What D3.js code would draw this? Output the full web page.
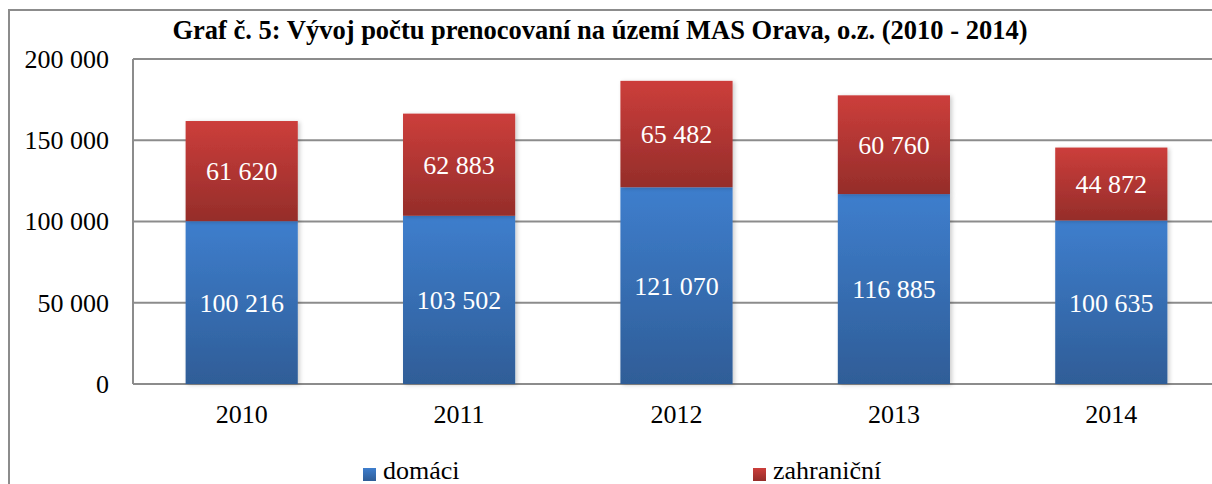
<!DOCTYPE html>
<html>
<head>
<meta charset="utf-8">
<script src="https://cdn.jsdelivr.net/npm/d3@7"></script>
<style>
  html, body { margin: 0; padding: 0; background: #fff; }
  svg { display: block; }
</style>
</head>
<body>
<div id="chart"></div>
<script>
// data
const years = ['2010', '2011', '2012', '2013', '2014'];
const domaci = [100216, 103502, 121070, 116885, 100635];
const zahranicni = [61620, 62883, 65482, 60760, 44872];
const yTicks = [0, 50000, 100000, 150000, 200000];
const seriesNames = ['domáci', 'zahraniční'];

const width = 1212, height = 484;
const margin = { top: 59, right: -8, bottom: 100, left: 133 };
const serif = 'Liberation Serif';

const svg = d3.select('#chart').append('svg')
    .attr('width', width)
    .attr('height', height)
    .attr('font-family', serif);

const defs = svg.append('defs');
function grad(id, top, bottom) {
    const g = defs.append('linearGradient').attr('id', id)
        .attr('x1', 0).attr('y1', 0).attr('x2', 0).attr('y2', 1);
    g.append('stop').attr('offset', '0%').attr('stop-color', top);
    g.append('stop').attr('offset', '100%').attr('stop-color', bottom);
}
grad('gBlue', '#3e7ecd', '#2f5d97');
grad('gRed', '#cc3e3b', '#952d2a');
const shadow = defs.append('filter').attr('id', 'shadow')
    .attr('x', '-10%').attr('y', '-10%').attr('width', '130%').attr('height', '130%');
shadow.append('feDropShadow').attr('dx', 2).attr('dy', 1).attr('stdDeviation', 2)
    .attr('flood-color', '#000').attr('flood-opacity', 0.2);

// outer chart border (runs off the right/bottom edge like the source)
svg.append('rect')
    .attr('x', 9).attr('y', 10)
    .attr('width', width + 20).attr('height', height + 20)
    .attr('fill', 'none').attr('stroke', '#8c8c8c').attr('stroke-width', 2);

const x = d3.scaleBand()
    .domain(years)
    .range([margin.left, width - margin.right])
    .paddingInner(0.484).paddingOuter(0.242);

const y = d3.scaleLinear()
    .domain([0, 200000])
    .range([height - margin.bottom, margin.top]);

// gridlines
svg.append('g')
    .selectAll('line')
    .data(yTicks)
    .join('line')
    .attr('x1', margin.left).attr('x2', width + 10)
    .attr('y1', d => y(d)).attr('y2', d => y(d))
    .attr('stroke', '#8c8c8c').attr('stroke-width', 2);

// plot left border
svg.append('line')
    .attr('x1', margin.left).attr('x2', margin.left)
    .attr('y1', y(200000)).attr('y2', y(0))
    .attr('stroke', '#8c8c8c').attr('stroke-width', 2);

const fmt = v => d3.format(',')(v).replace(/,/g, ' ');

// y axis labels
svg.append('g')
    .attr('transform', `translate(${margin.left - 24},0)`)
    .call(d3.axisLeft(y).tickValues(yTicks).tickSize(0).tickPadding(0).tickFormat(fmt))
    .call(g => g.select('.domain').remove())
    .attr('font-family', serif).attr('font-size', 26)
    .selectAll('text')
    .attr('fill', '#000');

// x axis labels
svg.append('g')
    .attr('transform', `translate(0,${y(0)})`)
    .call(d3.axisBottom(x).tickSize(0).tickPadding(0))
    .call(g => g.select('.domain').remove())
    .attr('font-family', serif).attr('font-size', 26)
    .selectAll('text')
    .attr('dy', null).attr('y', 39)
    .attr('fill', '#000');

// bars
const bars = svg.append('g');
years.forEach((yr, i) => {
    const d0 = domaci[i], d1 = zahranicni[i];
    bars.append('rect')
        .attr('x', x(yr)).attr('width', x.bandwidth())
        .attr('y', y(d0)).attr('height', y(0) - y(d0))
        .attr('fill', 'url(#gBlue)').attr('filter', 'url(#shadow)');
    bars.append('rect')
        .attr('x', x(yr)).attr('width', x.bandwidth())
        .attr('y', y(d0 + d1)).attr('height', y(d0) - y(d0 + d1))
        .attr('fill', 'url(#gRed)').attr('filter', 'url(#shadow)');
});

// value labels
const labels = svg.append('g')
    .attr('font-family', serif).attr('font-size', 26)
    .attr('fill', '#fff').attr('text-anchor', 'middle');
years.forEach((yr, i) => {
    const d0 = domaci[i], d1 = zahranicni[i];
    const cx = x(yr) + x.bandwidth() / 2;
    labels.append('text').attr('x', cx).attr('y', (y(0) + y(d0)) / 2)
        .attr('dy', '0.36em').text(fmt(d0));
    labels.append('text').attr('x', cx).attr('y', (y(d0) + y(d0 + d1)) / 2)
        .attr('dy', '0.34em').text(fmt(d1));
});

// title
svg.append('text')
    .attr('x', 600).attr('y', 39)
    .attr('text-anchor', 'middle')
    .attr('font-family', serif)
    .attr('font-size', 26.5).attr('font-weight', 'bold')
    .text('Graf č. 5: Vývoj počtu prenocovaní na území MAS Orava, o.z. (2010 - 2014)');

// legend
const legend = svg.append('g').attr('font-family', serif).attr('font-size', 26);
const legendX = [363, 753];
const legendFill = ['url(#gBlue)', 'url(#gRed)'];
seriesNames.forEach((name, i) => {
    legend.append('rect')
        .attr('x', legendX[i]).attr('y', 468)
        .attr('width', 13).attr('height', 13)
        .attr('fill', legendFill[i]);
    legend.append('text')
        .attr('x', legendX[i] + 20).attr('y', 479)
        .text(name);
});
</script>
</body>
</html>
